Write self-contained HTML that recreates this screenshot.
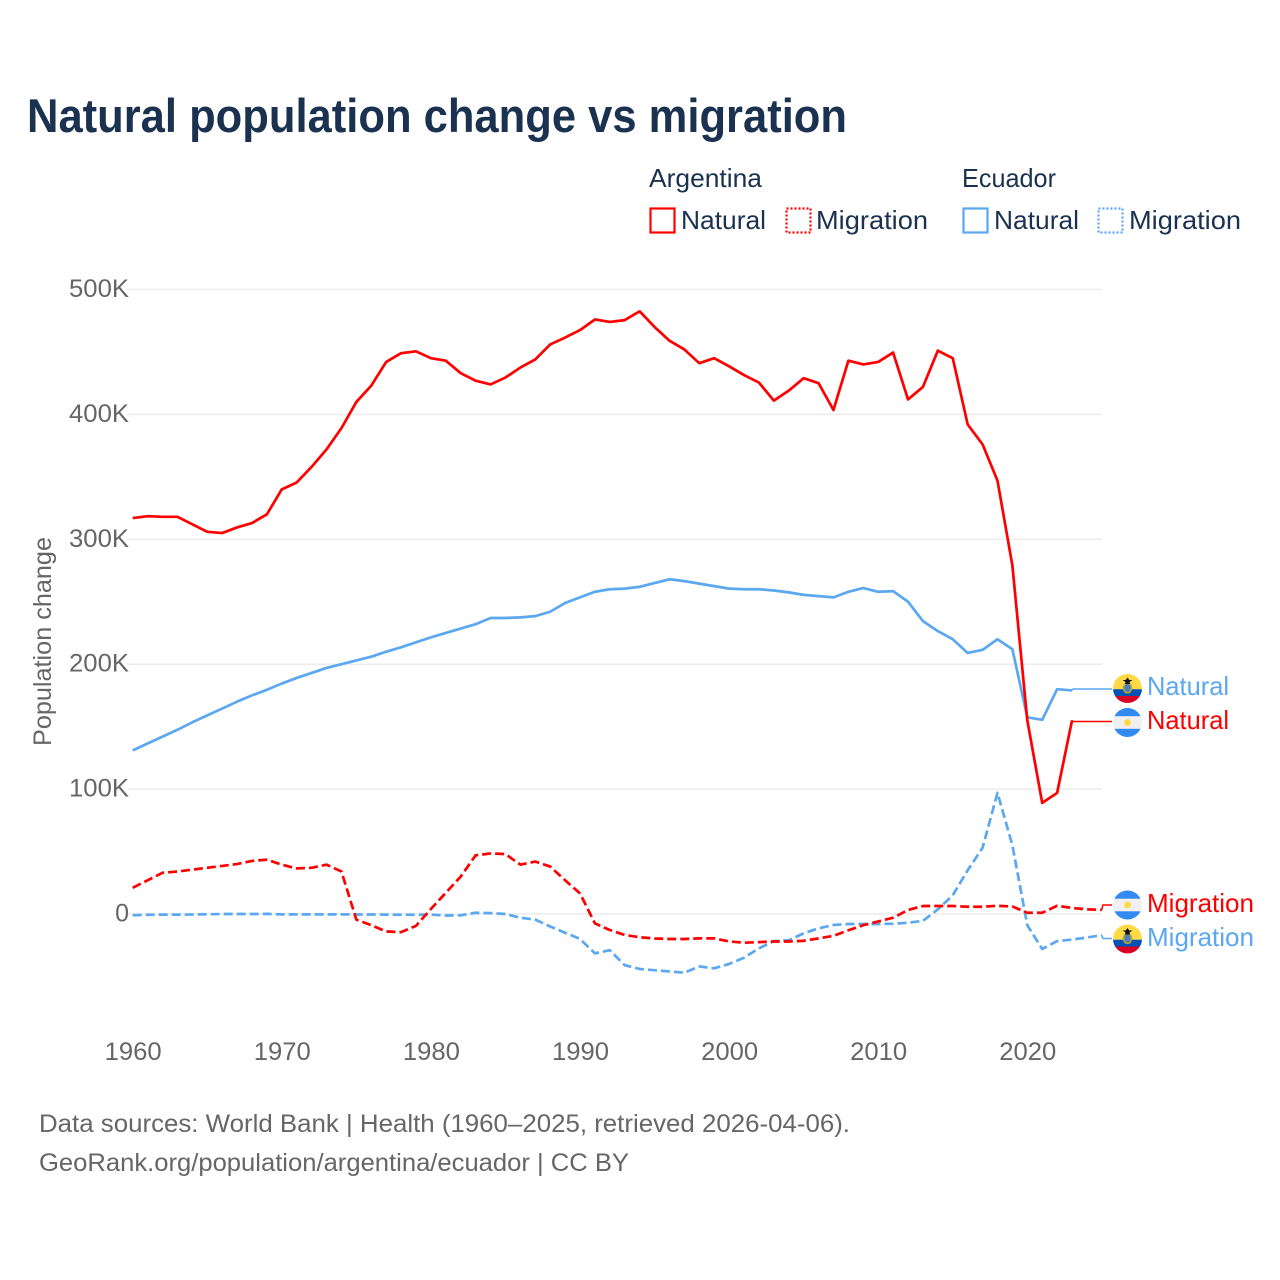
<!DOCTYPE html>
<html lang="en">
<head>
<meta charset="utf-8">
<title>Natural population change vs migration</title>
<style>
html,body{margin:0;padding:0;background:#fff;width:1280px;height:1280px;overflow:hidden}
svg{display:block}
text{font-family:"Liberation Sans",sans-serif}
.dark{fill:#1a3150}
.grey{fill:#666}
</style>
</head>
<body>
<svg id="chart" width="1280" height="1280" viewBox="0 0 1280 1280" xmlns="http://www.w3.org/2000/svg">
  <defs>
    <clipPath id="flag-clip"><circle cx="0" cy="0" r="14.5"/></clipPath>
    <g id="flag-ar">
      <g clip-path="url(#flag-clip)">
        <rect x="-15" y="-15" width="30" height="30" fill="#f0f0f0"/>
        <rect x="-15" y="-15" width="30" height="8.7" fill="#338af3"/>
        <rect x="-15" y="6.3" width="30" height="8.7" fill="#338af3"/>
        <circle cx="0" cy="0" r="3.4" fill="#ffda44"/>
      </g>
    </g>
    <g id="flag-ec">
      <g clip-path="url(#flag-clip)">
        <rect x="-15" y="-15" width="30" height="15.7" fill="#ffda44"/>
        <rect x="-15" y="0.7" width="30" height="6.8" fill="#0052b4"/>
        <rect x="-15" y="7.5" width="30" height="8" fill="#d80027"/>
        <ellipse cx="0" cy="-0.5" rx="4.8" ry="5.6" fill="#c9a227"/>
        <ellipse cx="0" cy="-0.5" rx="3.2" ry="4.2" fill="#4a7fc0"/>
        <path d="M-5,-8.5 L5,-8.5 L2,-6.5 L2.6,-4.5 L-2.6,-4.5 L-2,-6.5 Z M0,-11 L1.8,-8.5 L-1.8,-8.5 Z" fill="#111"/>
      </g>
    </g>
  </defs>

  <text class="dark" x="27" y="132" font-size="47" font-weight="700" textLength="820" lengthAdjust="spacingAndGlyphs">Natural population change vs migration</text>

  <g font-size="26">
    <text class="dark" x="649" y="187" textLength="113" lengthAdjust="spacingAndGlyphs">Argentina</text>
    <text class="dark" x="962" y="187" textLength="94" lengthAdjust="spacingAndGlyphs">Ecuador</text>

    <rect x="650.5" y="208.5" width="24" height="24" fill="none" stroke="#ff0000" stroke-width="2.2"/>
    <text class="dark" x="681" y="229" textLength="85" lengthAdjust="spacingAndGlyphs">Natural</text>
    <rect x="786.5" y="208.5" width="24" height="24" fill="none" stroke="#ff0000" stroke-width="2.2" stroke-dasharray="2 2"/>
    <text class="dark" x="816" y="229" textLength="112" lengthAdjust="spacingAndGlyphs">Migration</text>

    <rect x="963.5" y="208.5" width="24" height="24" fill="none" stroke="#5ba7f0" stroke-width="2.2"/>
    <text class="dark" x="994" y="229" textLength="85" lengthAdjust="spacingAndGlyphs">Natural</text>
    <rect x="1098.5" y="208.5" width="24" height="24" fill="none" stroke="#5ba7f0" stroke-width="2.2" stroke-dasharray="2 2"/>
    <text class="dark" x="1129" y="229" textLength="112" lengthAdjust="spacingAndGlyphs">Migration</text>
  </g>

  <g id="grid"></g>
  <g id="y-ticks"></g>
  <g id="x-ticks"></g>
  <text class="grey" font-size="25" text-anchor="middle" transform="translate(51 641.5) rotate(-90)" textLength="209" lengthAdjust="spacingAndGlyphs">Population change</text>
  <g id="series"></g>

  <g font-size="26">
    <use href="#flag-ec" x="1127.5" y="688.5"/>
    <text x="1147" y="695" fill="#5ba7f0" textLength="82" lengthAdjust="spacingAndGlyphs">Natural</text>
    <use href="#flag-ar" x="1127.5" y="722.5"/>
    <text x="1147" y="729" fill="#ff0000" textLength="82" lengthAdjust="spacingAndGlyphs">Natural</text>
    <use href="#flag-ar" x="1127.5" y="905"/>
    <text x="1147" y="912" fill="#ff0000" textLength="107" lengthAdjust="spacingAndGlyphs">Migration</text>
    <use href="#flag-ec" x="1127.5" y="939"/>
    <text x="1147" y="946" fill="#5ba7f0" textLength="107" lengthAdjust="spacingAndGlyphs">Migration</text>
  </g>

  <text class="grey" x="39" y="1132" font-size="25" textLength="811" lengthAdjust="spacingAndGlyphs">Data sources: World Bank | Health (1960–2025, retrieved 2026-04-06).</text>
  <text class="grey" x="39" y="1171" font-size="25" textLength="590" lengthAdjust="spacingAndGlyphs">GeoRank.org/population/argentina/ecuador | CC BY</text>
</svg>

<script>
// Values are in thousands of people, indexed by year starting at firstYear.
const firstYear = 1960;
const argentinaNatural = [317,318.5,318,318,312,306,305,309.5,313,320,340,345.5,358,372,389,410,423,442,449,450.5,445,443,433,427,424,429.5,437.5,444,456,461.5,467.5,476,474,475.5,482.5,470,459,452,441,445,438.5,431.5,425.5,411,419,429,425,403.5,443,440,442,449.5,412,422,451,445,392,376,347,279,155,89,97,155];
const ecuadorNatural = [131,136.5,142,147.5,153.5,159,164.5,170,175,179.5,184.5,189,193,197,200,203,206,210,213.5,217.5,221.5,225,228.5,232,237,237,237.5,238.5,242,249,253.5,258,260,260.5,262,265,268,266.5,264.5,262.5,260.5,260,260,259,257.5,255.5,254.5,253.5,258,261,258,258.5,250,234.5,226.5,220,209,211.5,220,212,157.5,155.5,180,179];
const argentinaMigration = [21,27,33,34,35.5,37,38.5,40,42.5,43.5,39.5,36.5,37,39.5,34,-4.5,-9,-14,-14.5,-9.5,4,17,30,47,48.5,48,39.5,42,38,27,16.5,-7.5,-12.8,-16.8,-18.6,-19.6,-20,-20,-19.5,-19.5,-22,-23,-22.5,-22,-22,-21.5,-19.5,-17.5,-13,-9,-6,-3,3.2,6.4,6.4,6.4,5.8,5.8,6.6,6,1,1,6.6,4.8,3.7,3.3];
const ecuadorMigration = [-1,-0.6,-0.5,-0.5,-0.4,-0.2,0,0,0,0.1,-0.3,-0.3,-0.3,-0.3,-0.3,-0.4,-0.4,-0.5,-0.6,-0.6,-0.5,-1.2,-1,1,0.7,0,-3,-4.5,-10,-15,-20,-31.5,-29,-41,-44,-45,-46,-47,-42,-43.5,-40,-35,-27.5,-21.7,-21,-15.5,-11.5,-8.8,-8,-8,-8,-7.8,-7,-5.5,3.7,15,35,53,97,55,-9,-28,-21.7,-20.5,-18.8,-17];
const yTickValues = [0,100,200,300,400,500];
const yTickLabels = ["0","100K","200K","300K","400K","500K"];
const xTickValues = [1960,1970,1980,1990,2000,2010,2020];

const NS = "http://www.w3.org/2000/svg";
const plot = {left:132.7, right:1102, xPerYear:14.91, zeroY:914, pxPerK:1.249};
function xScale(year){ return plot.left + (year - firstYear) * plot.xPerYear; }
function yScale(k){ return plot.zeroY - k * plot.pxPerK; }
function linePath(values){
  return values.map(function(v,i){
    return (i ? "L" : "M") + xScale(firstYear + i).toFixed(2) + "," + yScale(v).toFixed(2);
  }).join(" ");
}
function make(tag, attrs, parent){
  const el = document.createElementNS(NS, tag);
  for (const k in attrs) el.setAttribute(k, attrs[k]);
  parent.appendChild(el);
  return el;
}

const grid = document.getElementById("grid");
const yTicks = document.getElementById("y-ticks");
const xTicks = document.getElementById("x-ticks");
const seriesGroup = document.getElementById("series");

yTickValues.forEach(function(v,i){
  const gy = yScale(v);
  const line = make("line", {x1:127, x2:1102, y1:gy, y2:gy, stroke:"#ececec", "stroke-width":1.5}, grid);
  
  
  const attrs = {x:129, y:gy + 7.5, "font-size":25, "text-anchor":"end", class:"grey"};
  if (yTickLabels[i].length > 1) { attrs.textLength = 60; attrs.lengthAdjust = "spacingAndGlyphs"; }
  const t = make("text", attrs, yTicks);
  
  
  t.textContent = yTickLabels[i];
});

xTickValues.forEach(function(year){
  const t = make("text", {x:xScale(year) + 0.5, y:1060, "font-size":25, "text-anchor":"middle", class:"grey", textLength:57, lengthAdjust:"spacingAndGlyphs"}, xTicks);
  
  
  t.textContent = year;
});

function drawSeries(values, color, dashed, name, labelY){
  const p = make("path", {d:linePath(values), fill:"none", stroke:color, "stroke-width":2.7, "stroke-linejoin":"round"}, seriesGroup);
  if (dashed) p.setAttribute("stroke-dasharray", "9 4");
  
  
  const lastX = xScale(firstYear + values.length - 1);
  const lastY = yScale(values[values.length - 1]);
  const c = make("path", {d:"M" + lastX + "," + lastY + " L" + (lastX + 1) + "," + labelY + " L1112," + labelY, fill:"none", stroke:color, "stroke-width":1.5}, seriesGroup);
  
  
}
drawSeries(ecuadorMigration, "#5ba7f0", true, "line-ecuador-migration", 938.5);
drawSeries(argentinaMigration, "#ff0000", true, "line-argentina-migration", 905);
drawSeries(ecuadorNatural, "#5ba7f0", false, "line-ecuador-natural", 689);
drawSeries(argentinaNatural, "#ff0000", false, "line-argentina-natural", 721.5);
</script>
</body>
</html>
